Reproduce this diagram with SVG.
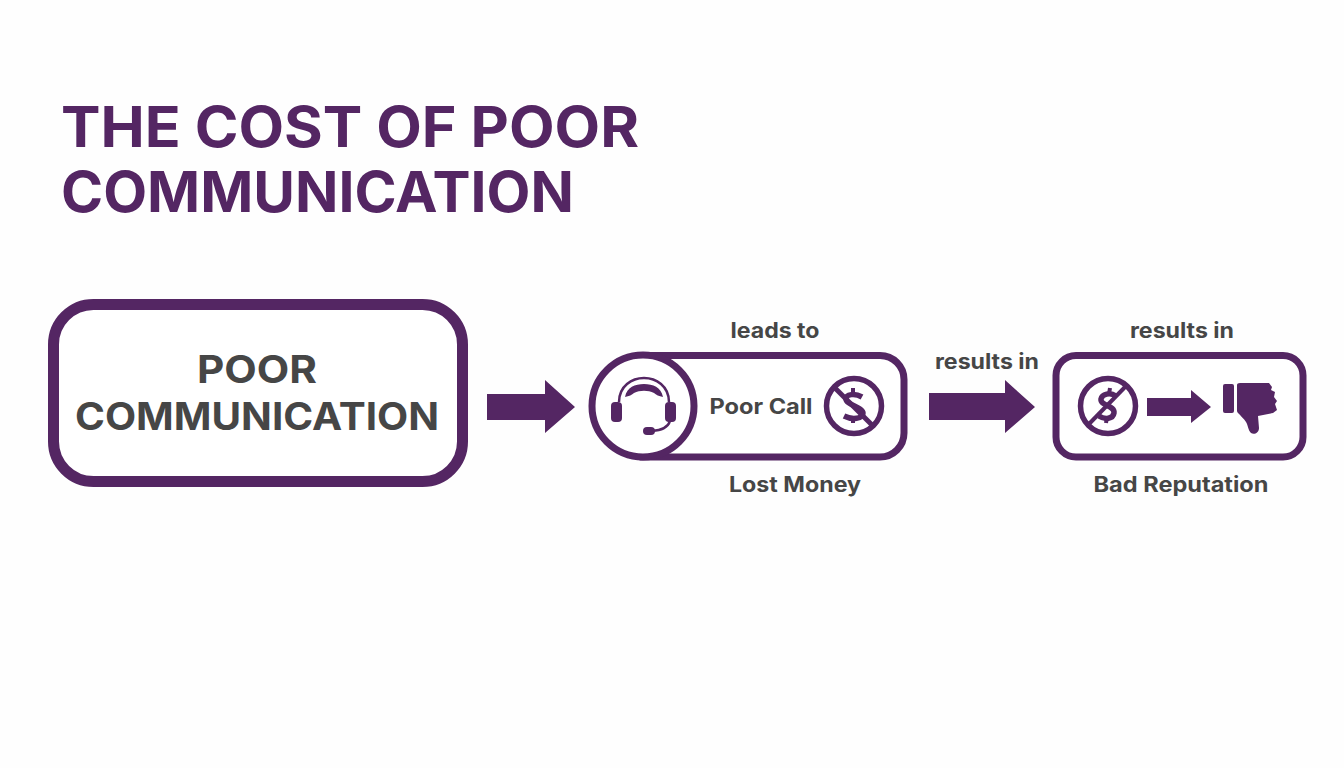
<svg xmlns="http://www.w3.org/2000/svg" width="1344" height="768" viewBox="0 0 1344 768">
<style>
.p{fill:#542663}
.o{fill:#fff;stroke:#542663}
.l{fill:none;stroke:#542663}
text{font-family:Inter,"Liberation Sans",Arial,sans-serif;font-weight:700;fill:#464646;text-anchor:middle}
.t{fill:#542663;font-size:56px;text-anchor:start}
</style>
<rect width="1344" height="768" fill="#fefefe"/>
<g id="title"><text class="t" x="61" y="147" textLength="578" lengthAdjust="spacingAndGlyphs">THE COST OF POOR</text><text class="t" x="61" y="212" textLength="513" lengthAdjust="spacingAndGlyphs">COMMUNICATION</text></g>
<g id="connectors">
<path class="p" d="M487 394H545V380L575 407 545 433V420H487Z"/>
<path class="p" d="M929 393H1005V380L1035 407 1005 433V420H929Z"/>
</g>
<g id="node-poor-communication">
<rect class="o" x="53.500" y="304.500" width="409" height="177" rx="40" stroke-width="11"/>
<text x="257" y="383" font-size="38" textLength="120" lengthAdjust="spacingAndGlyphs">POOR</text>
<text x="257" y="430" font-size="38" textLength="364" lengthAdjust="spacingAndGlyphs">COMMUNICATION</text>
</g>
<g id="node-poor-call">
<text x="775" y="338" font-size="21" textLength="89" lengthAdjust="spacingAndGlyphs">leads to</text>
<path class="o" stroke-width="7" d="M643 355.500H880A24 24 0 0 1 904 379.500V433A24 24 0 0 1 880 457H643Z"/>
<circle class="o" cx="643" cy="406" r="51" stroke-width="7"/>
<g id="headset">
<path class="p" d="M625 397C627 387 635 384 644 384 653 384 661 387 663 397 659 396 656 395 654 393 648 390 640 390 634 393 632 395 629 396 625 397Z"/>
<path class="l" stroke-width="2.500" d="M619 402C619 386 632 378 644 378 656 378 669 386 669 402"/>
<rect class="p" x="611" y="402" width="11" height="20" rx="4"/><rect class="p" x="665" y="402" width="11" height="20" rx="4"/>
<path class="l" stroke-width="2.500" d="M670 421C668 428 661 430 652 431"/>
<rect class="p" x="643" y="427" width="12" height="8" rx="4"/>
</g>
<text x="761" y="414" font-size="21" textLength="103" lengthAdjust="spacingAndGlyphs">Poor Call</text>
<g id="no-dollar-1">
<circle class="l" cx="854" cy="406" r="27.500" stroke-width="5.500"/>
<path class="l" stroke-width="5" d="M833 386L872 425"/>
<path class="l" stroke-width="5.500" d="M862 397C855 393 846 394 846 399 846 405 863 407 863 413 863 419 852 420 844 416"/>
<path class="l" stroke-width="4" d="M853 388V394M853 417V423"/>
</g>
<text x="795" y="492" font-size="21" textLength="132" lengthAdjust="spacingAndGlyphs">Lost Money</text>
</g>
<g id="node-bad-reputation">
<text x="987" y="369" font-size="21" textLength="104" lengthAdjust="spacingAndGlyphs">results in</text>
<text x="1182" y="338" font-size="21" textLength="104" lengthAdjust="spacingAndGlyphs">results in</text>
<rect class="o" x="1056" y="355.500" width="247" height="101.500" rx="20" stroke-width="7"/>
<g id="no-dollar-2">
<circle class="l" cx="1108" cy="406" r="27.500" stroke-width="5.500"/>
<path class="l" stroke-width="4" d="M1127 385L1088 425"/>
<path class="l" stroke-width="5.500" d="M1116 396C1110 392 1102 394 1101 399 1100 406 1115 405 1114 413 1113 419 1105 420 1099 416"/>
<path class="l" stroke-width="4" d="M1110 388L1109 394M1107 417L1106 423"/>
</g>
<path class="p" d="M1147 398H1191V390L1211 407 1191 423V416H1147Z"/>
<g id="thumbs-down">
<rect class="p" x="1223" y="384" width="11" height="29" rx="2"/>
<path class="p" d="M1237 385Q1237 383 1240 383H1269L1272 387 1271 390 1275 392 1274 397 1277 401 1275 404 1277 410 1273 413 1258 416 1259 428C1259 433 1254 435 1251 433 1248 430 1248 425 1246 422 1244 419 1240 415 1238 413 1237 412 1237 411 1237 410Z"/>
</g>
<text x="1181" y="492" font-size="21" textLength="175" lengthAdjust="spacingAndGlyphs">Bad Reputation</text>
</g>
</svg>
